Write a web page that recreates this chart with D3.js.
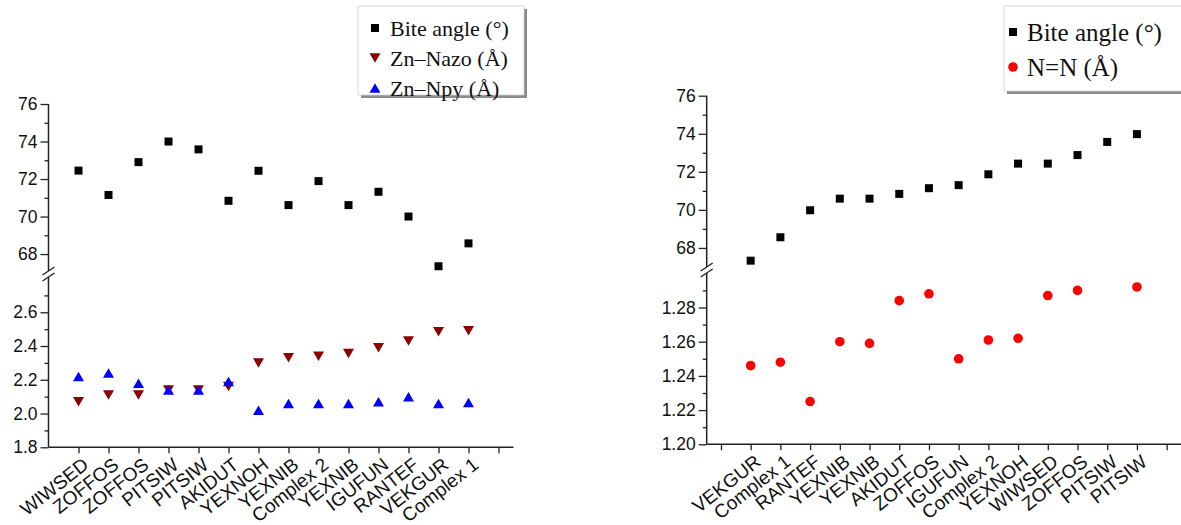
<!DOCTYPE html>
<html>
<head>
<meta charset="utf-8">
<script src="https://cdn.jsdelivr.net/npm/d3@7"></script>
<style>
  html, body { margin: 0; padding: 0; background: #fff; }
  svg { display: block; }
</style>
</head>
<body>
<svg id="chart" width="1181" height="525"></svg>
<script>
// ---------- DATA ----------
const leftCategories = ["WIWSED","ZOFFOS","ZOFFOS","PITSIW","PITSIW","AKIDUT","YEXNOH","YEXNIB","Complex 2","YEXNIB","IGUFUN","RANTEF","VEKGUR","Complex 1"];
const leftBiteAngle = [72.45, 71.15, 72.9, 74.0, 73.58, 70.84, 72.44, 70.61, 71.89, 70.61, 71.32, 70.0, 67.35, 68.57];
const leftZnNazo = [2.07, 2.11, 2.11, 2.14, 2.14, 2.16, 2.30, 2.33, 2.34, 2.355, 2.39, 2.43, 2.485, 2.49];
const leftZnNpy = [2.22, 2.24, 2.18, 2.14, 2.14, 2.19, 2.02, 2.06, 2.06, 2.06, 2.07, 2.10, 2.06, 2.065];

const rightCategories = ["VEKGUR","Complex 1","RANTEF","YEXNIB","YEXNIB","AKIDUT","ZOFFOS","IGUFUN","Complex 2","YEXNOH","WIWSED","ZOFFOS","PITSIW","PITSIW"];
const rightBiteAngle = [67.33, 68.56, 69.98, 70.59, 70.59, 70.84, 71.14, 71.3, 71.87, 72.43, 72.43, 72.88, 73.57, 73.98];
const rightNN = [1.246, 1.248, 1.225, 1.260, 1.259, 1.284, 1.288, 1.250, 1.261, 1.262, 1.287, 1.290, null, 1.292];

const leftUpperTicks = [68, 70, 72, 74, 76];
const leftUpperMinor = [69, 71, 73, 75];
const leftLowerTicks = [1.8, 2.0, 2.2, 2.4, 2.6];
const leftLowerMinor = [1.9, 2.1, 2.3, 2.5, 2.7];
const rightUpperTicks = [68, 70, 72, 74, 76];
const rightUpperMinor = [69, 71, 73, 75];
const rightLowerTicks = [1.20, 1.22, 1.24, 1.26, 1.28];
const rightLowerMinor = [1.21, 1.23, 1.25, 1.27, 1.29];

const leftLegend = ["Bite angle (°)", "Zn–Nazo (Å)", "Zn–Npy (Å)"];
const rightLegend = ["Bite angle (°)", "N=N (Å)"];

// ---------- STYLE ----------
const AXIS = "#222";
const C_BITE = "#000000", C_NAZO = "#8b0000", C_NPY = "#0000ff", C_NN = "#ff0000";
const TICKFONT = "Liberation Sans, Arial, sans-serif";
const LEGFONT = "Liberation Serif, Times New Roman, serif";

const svg = d3.select("#chart");

function squarePath(s) { const h = s / 2; return `M${-h},${-h}H${h}V${h}H${-h}Z`; }
function triUpPath(w, h) { return `M0,${-h/2}L${w/2},${h/2}L${-w/2},${h/2}Z`; }
function triDownPath(w, h) { return `M0,${h/2}L${w/2},${-h/2}L${-w/2},${-h/2}Z`; }

function drawMarkers(g, data, x, y, kind, color) {
  const pts = data.map((v, i) => ({ i: i + 1, v })).filter(d => d.v !== null);
  if (kind === "circle") {
    g.selectAll(null).data(pts).enter().append("circle")
      .attr("cx", d => x(d.i)).attr("cy", d => y(d.v)).attr("r", 4.8).attr("fill", color);
  } else {
    const p = kind === "square" ? squarePath(8) : kind === "up" ? triUpPath(11, 9.5) : triDownPath(11, 9.5);
    g.selectAll(null).data(pts).enter().append("path")
      .attr("d", p).attr("fill", color)
      .attr("transform", d => `translate(${x(d.i)},${y(d.v)})`);
  }
}

function drawPanel(cfg) {
  const g = svg.append("g");
  const { axisX, x, yUp, yLow, upTicks, upMinor, lowTicks, lowMinor, fmtLow, categories, tickIdx, breakY, xEnd } = cfg;
  const baseY = yLow.range()[0];

  g.append("line").attr("x1", axisX).attr("x2", axisX).attr("y1", yUp.range()[1]).attr("y2", breakY - 3)
    .attr("stroke", AXIS).attr("stroke-width", 1.5);
  g.append("line").attr("x1", axisX).attr("x2", axisX).attr("y1", breakY + 3).attr("y2", baseY)
    .attr("stroke", AXIS).attr("stroke-width", 1.5);
  [-3, 3].forEach(o => {
    g.append("line").attr("x1", axisX - 6).attr("y1", breakY + o + 4).attr("x2", axisX + 6).attr("y2", breakY + o - 4)
      .attr("stroke", AXIS).attr("stroke-width", 1.3);
  });

  const upG = g.append("g").attr("transform", `translate(${axisX},0)`)
    .call(d3.axisLeft(yUp).tickValues(upTicks).tickSize(8).tickSizeOuter(0).tickPadding(3).tickFormat(d3.format("d")));
  const upMG = g.append("g").attr("transform", `translate(${axisX},0)`)
    .call(d3.axisLeft(yUp).tickValues(upMinor).tickSize(4).tickSizeOuter(0).tickFormat(""));
  const lowG = g.append("g").attr("transform", `translate(${axisX},0)`)
    .call(d3.axisLeft(yLow).tickValues(lowTicks).tickSize(8).tickSizeOuter(0).tickPadding(3).tickFormat(fmtLow));
  const lowMG = g.append("g").attr("transform", `translate(${axisX},0)`)
    .call(d3.axisLeft(yLow).tickValues(lowMinor).tickSize(4).tickSizeOuter(0).tickFormat(""));

  const xG = g.append("g").attr("transform", `translate(0,${baseY})`)
    .call(d3.axisBottom(x).tickValues(tickIdx).tickSize(6).tickSizeOuter(0).tickFormat(""));
  xG.select(".domain").remove();
  g.append("line").attr("x1", axisX).attr("x2", xEnd).attr("y1", baseY).attr("y2", baseY)
    .attr("stroke", AXIS).attr("stroke-width", 1.5);

  [upG, upMG, lowG, lowMG].forEach(a => a.select(".domain").remove());
  [upG, upMG, lowG, lowMG, xG].forEach(a => {
    a.selectAll(".tick line").attr("stroke", AXIS).attr("stroke-width", 1.3);
    a.selectAll(".tick text").attr("font-family", TICKFONT).attr("font-size", 17.5).attr("fill", "#111");
  });

  g.selectAll(null).data(categories).enter().append("text")
    .attr("transform", (d, i) => `translate(${x(i + 1) + 3},${baseY + 9}) rotate(-38)`)
    .attr("text-anchor", "end").attr("dy", "0.72em")
    .attr("font-family", TICKFONT).attr("font-size", 19).attr("fill", "#111")
    .text(d => d);
  return g;
}

function drawLegend(cfg) {
  const { x0, y0, w, h, rows, fontSize, markerX, textX } = cfg;
  const g = svg.append("g");
  g.append("rect").attr("x", x0 + 3).attr("y", y0 + 3).attr("width", w).attr("height", h).attr("fill", "#8a8a8a");
  g.append("rect").attr("x", x0).attr("y", y0).attr("width", w).attr("height", h)
    .attr("fill", "#fff").attr("stroke", "#d0d0d0").attr("stroke-width", 0.8);
  rows.forEach(r => {
    if (r.kind === "circle") {
      g.append("circle").attr("cx", markerX).attr("cy", r.y).attr("r", 4.8).attr("fill", r.color);
    } else {
      const p = r.kind === "square" ? squarePath(8) : r.kind === "up" ? triUpPath(11, 9.5) : triDownPath(11, 9.5);
      g.append("path").attr("d", p).attr("fill", r.color).attr("transform", `translate(${markerX},${r.y})`);
    }
    g.append("text").attr("x", textX).attr("y", r.y).attr("dy", "0.35em")
      .attr("font-family", LEGFONT).attr("font-size", fontSize).attr("fill", "#111").text(r.label);
  });
}

// ---------- LEFT PANEL ----------
const lx = d3.scaleLinear().domain([0, 15.5]).range([48.5, 513.5]);
const lyUp = d3.scaleLinear().domain([67.15, 76]).range([270, 104]);
const lyLow = d3.scaleLinear().domain([1.8, 2.8]).range([447.3, 278.5]);
const lp = drawPanel({
  axisX: 48.5, x: lx, yUp: lyUp, yLow: lyLow,
  upTicks: leftUpperTicks, upMinor: leftUpperMinor, lowTicks: leftLowerTicks, lowMinor: leftLowerMinor,
  fmtLow: d3.format(".1f"), categories: leftCategories, tickIdx: d3.range(1, 16), breakY: 274, xEnd: 513.5
});
drawMarkers(lp, leftBiteAngle, lx, lyUp, "square", C_BITE);
drawMarkers(lp, leftZnNazo, lx, lyLow, "down", C_NAZO);
drawMarkers(lp, leftZnNpy, lx, lyLow, "up", C_NPY);

// ---------- RIGHT PANEL ----------
const rx = d3.scaleLinear().domain([-0.48, 15.5]).range([706.7, 1181.5]);
const ryUp = d3.scaleLinear().domain([67.05, 76]).range([266, 95.7]);
const ryLow = d3.scaleLinear().domain([1.20, 1.30]).range([444.3, 273.3]);
const rp = drawPanel({
  axisX: 706.7, x: rx, yUp: ryUp, yLow: ryLow,
  upTicks: rightUpperTicks, upMinor: rightUpperMinor, lowTicks: rightLowerTicks, lowMinor: rightLowerMinor,
  fmtLow: d3.format(".2f"), categories: rightCategories, tickIdx: d3.range(0, 16), breakY: 270, xEnd: 1181
});
drawMarkers(rp, rightBiteAngle, rx, ryUp, "square", C_BITE);
drawMarkers(rp, rightNN, rx, ryLow, "circle", C_NN);

// ---------- LEGENDS ----------
drawLegend({ x0: 358, y0: 6, w: 166, h: 89, fontSize: 22, markerX: 375, textX: 390,
  rows: [
    { label: leftLegend[0], kind: "square", color: C_BITE, y: 28 },
    { label: leftLegend[1], kind: "down", color: C_NAZO, y: 58 },
    { label: leftLegend[2], kind: "up", color: C_NPY, y: 88 }
  ] });
drawLegend({ x0: 1004, y0: 6, w: 190, h: 85, fontSize: 25, markerX: 1013, textX: 1027,
  rows: [
    { label: rightLegend[0], kind: "square", color: C_BITE, y: 32 },
    { label: rightLegend[1], kind: "circle", color: C_NN, y: 67 }
  ] });
</script>
</body>
</html>
